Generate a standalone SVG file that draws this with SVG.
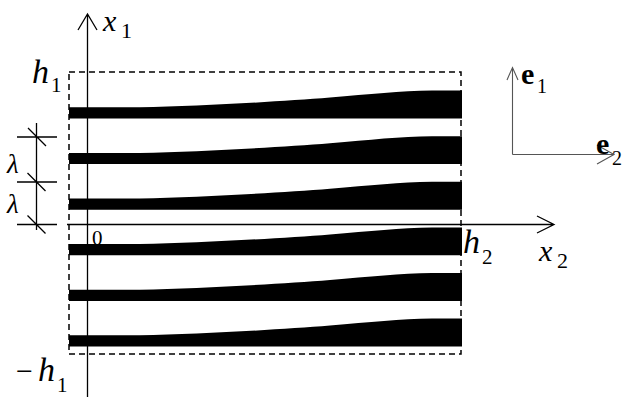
<svg xmlns="http://www.w3.org/2000/svg" xmlns:xlink="http://www.w3.org/1999/xlink" width="626" height="405" viewBox="0 0 626 405">
<style>
.ax{stroke:#000;stroke-width:1.3;fill:none}
.sm{stroke:#555;stroke-width:1.1;fill:none}
.dash{stroke:#000;stroke-width:1.5;fill:none;stroke-dasharray:6 4}
.bar{fill:#000}
text{font-family:"Liberation Serif","DejaVu Serif",serif;fill:#000}
.i30{font-style:italic;font-size:30px}
.i34{font-style:italic;font-size:34px}
.i26{font-style:italic;font-size:27px}
.s22{font-size:22px}
.s21{font-size:21px}
.s20{font-size:20px}
.u30{font-size:30px}
.b30{font-weight:bold;font-size:30px}
</style>
<defs>
<path id="barShape" d="M69,107.3 L140,107.3 C200,106.2 280,101.5 330,97.6 C370,94.2 400,91 432,90.6 L462,90.6 L462,118.5 L69,118.5 Z"/>
</defs>
<rect width="626" height="405" fill="#fff"/>
<g id="bars" class="bar">
<use xlink:href="#barShape"/>
<use xlink:href="#barShape" transform="translate(0,45.6)"/>
<use xlink:href="#barShape" transform="translate(0,91.2)"/>
<use xlink:href="#barShape" transform="translate(0,136.8)"/>
<use xlink:href="#barShape" transform="translate(0,182.4)"/>
<use xlink:href="#barShape" transform="translate(0,228)"/>
</g>
<g id="region">
<rect class="dash" x="69" y="72" width="392" height="282"/>
</g>
<g id="connectors">
<path class="ax" d="M87.5,397 V14.5 M78,30 L87.5,14 L97,30"/>
<path class="ax" d="M67,224.5 H554 M537,216 L554,224.5 L537,233"/>
<path class="ax" d="M17,137 H57 M17,182 H57 M17,224.5 H57 M36.5,123 V230 M28,128 L46,146 M27.5,173 L45.5,191 M27.5,215.5 L45.5,233.5"/>
<path class="sm" d="M512.5,154.5 V67.5 M507,80 L512.5,67.5 L518,80 M512.5,154.5 H614 M597,145 L614,154.5 L597,164"/>
</g>
<g id="labels">
<text class="i30" x="103" y="31">x</text>
<text class="s22" x="121" y="38">1</text>
<text class="i34" x="32" y="83">h</text>
<text class="s21" x="51" y="92">1</text>
<text class="u30" x="16" y="381">−</text>
<text class="i34" x="38" y="381">h</text>
<text class="s21" x="57" y="392">1</text>
<text class="s21" x="92" y="245">0</text>
<text class="i34" x="463" y="253">h</text>
<text class="s21" x="482" y="264">2</text>
<text class="i30" x="539" y="261">x</text>
<text class="s22" x="557" y="268">2</text>
<text class="i26" x="7" y="173">λ</text>
<text class="i26" x="7" y="213">λ</text>
<text class="b30" x="521" y="84">e</text>
<text class="s20" x="537" y="93">1</text>
<text class="b30" x="596" y="154">e</text>
<text class="s20" x="612" y="165">2</text>
</g>
</svg>
